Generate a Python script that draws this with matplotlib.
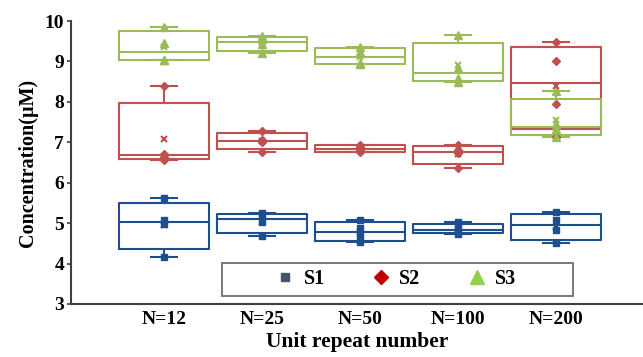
import numpy as np
import matplotlib
matplotlib.use("Agg")
import matplotlib.pyplot as plt
from matplotlib.patches import Rectangle
from matplotlib.lines import Line2D

plt.rcParams['font.family'] = ['Liberation Serif', 'DejaVu Serif']
plt.rcParams['font.weight'] = 'bold'

groups = ['N=12', 'N=25', 'N=50', 'N=100', 'N=200']
series = ['S1', 'S2', 'S3']

# four repeats per unit-repeat group
s1 = [[4.17, 4.97, 5.07, 5.63],
      [4.68, 5.02, 5.17, 5.25],
      [4.53, 4.69, 4.87, 5.07],
      [4.73, 4.80, 4.87, 5.02],
      [4.50, 4.82, 5.07, 5.27]]
s2 = [[6.56, 6.64, 6.72, 8.38],
      [6.77, 7.00, 7.06, 7.28],
      [6.76, 6.80, 6.88, 6.94],
      [6.37, 6.74, 6.80, 6.94],
      [7.13, 7.94, 9.00, 9.48]]
s3 = [[9.04, 9.04, 9.45, 9.85],
      [9.20, 9.42, 9.55, 9.62],
      [8.93, 8.97, 9.23, 9.35],
      [8.50, 8.60, 8.84, 9.66],
      [7.12, 7.32, 7.44, 8.28]]

box_colors = ['#1F4E8C', '#C0504D', '#9BBB59']
pt_markers = ['s', 'D', '^']
pt_sizes = [4.8, 4.3, 5.6]
leg_colors = ['#44546A', '#C00000', '#92D050']


def excel_stats(vals):
    v = np.asarray(vals)
    q1, med, q3 = np.percentile(v, [25, 50, 75], method='weibull')
    iqr = q3 - q1
    inside = v[(v >= q1 - 1.5 * iqr) & (v <= q3 + 1.5 * iqr)]
    return dict(med=med, q1=q1, q3=q3, whislo=inside.min(), whishi=inside.max(),
                mean=v.mean(), fliers=[])


fig = plt.figure(figsize=(6.43, 3.57), dpi=100)
ax = fig.add_axes([71 / 643, 1 - 304 / 357, 572 / 643, 283 / 357])

pos = np.arange(1, len(groups) + 1)
for data, c, m, ms in zip([s1, s2, s3], box_colors, pt_markers, pt_sizes):
    stats = [excel_stats(d) for d in data]
    lp = dict(color=c, linewidth=1.5)
    ax.bxp(stats, positions=pos, widths=0.91, capwidths=0.27,
           boxprops=lp, medianprops=lp, whiskerprops=lp, capprops=lp,
           showfliers=False, manage_ticks=False)
    for x, d in zip(pos, data):
        ax.plot([x] * len(d), d, linestyle='none', marker=m, markersize=ms,
                color=c, zorder=3)
    ax.plot(pos, [s['mean'] for s in stats], linestyle='none', marker='x',
            markersize=4.5, markeredgewidth=1.5, color=c, zorder=4)

ax.set_xlim(0.051, 5.888)
ax.set_ylim(3, 10)
ax.set_xticks(pos)
ax.set_xticklabels(groups, fontsize=14, fontweight='bold')
ax.set_yticks(range(3, 11))
ax.tick_params(axis='y', labelsize=14, length=3, width=1.2, color='#404040', pad=2)
ax.tick_params(axis='x', length=0, pad=5)
for t in ax.get_yticklabels():
    t.set_fontweight('bold')
for s in ['top', 'right']:
    ax.spines[s].set_visible(False)
for s in ['left', 'bottom']:
    ax.spines[s].set_color('#404040')
    ax.spines[s].set_linewidth(1.5)

ax.set_xlabel('Unit repeat number', fontsize=15.5, fontweight='bold', labelpad=3)
ax.set_ylabel('Concentration(μM)', fontsize=14.5, fontweight='bold', labelpad=5)

# legend inside a wide frame near the bottom
ax.add_patch(Rectangle((0.264, 0.029), 0.614, 0.1145, transform=ax.transAxes,
                       facecolor='white', edgecolor='#6E6E6E', linewidth=1.3, zorder=5))
handles = [Line2D([], [], linestyle='none', marker=m, color=c, markersize=s)
           for m, c, s in zip(pt_markers, leg_colors, [6, 7, 9.5])]
leg = ax.legend(handles, series, loc='center', bbox_to_anchor=(0.566, 0.0866),
                ncol=3, frameon=False, columnspacing=2.2, handlelength=1.2,
                handletextpad=0.3,
                prop=dict(family='Liberation Serif', weight='bold', size=14.5))
leg.set_zorder(6)

fig.savefig('out.png', dpi=100)
